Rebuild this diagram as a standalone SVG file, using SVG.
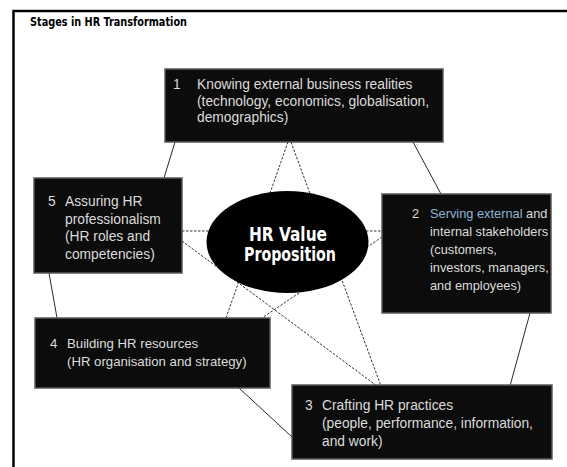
<svg xmlns="http://www.w3.org/2000/svg" width="567" height="467" viewBox="0 0 567 467">
<style>
.box{fill:#0c0c0c;stroke:#5a5a5a;stroke-width:1.5}
.t{font-family:"Liberation Sans",Arial,sans-serif;fill:#dcdcdc}
.solid{stroke:#2a2a2a;stroke-width:1;fill:none}
.dash{stroke:#333;stroke-width:1;stroke-dasharray:2.5 1.5;fill:none}
.title{font-family:"Liberation Sans Narrow","DejaVu Sans Condensed","Liberation Sans",sans-serif;font-weight:bold;font-size:11.5px;fill:#000}
.hv{font-family:"Liberation Sans Narrow","DejaVu Sans Condensed","Liberation Sans",sans-serif;font-weight:bold;font-size:19px;fill:#fff;text-anchor:middle}
</style>
<rect width="567" height="467" fill="#fff"/>
<path d="M13.5 467 V11 H567" fill="none" stroke="#000" stroke-width="2.5"/>
<text class="title" x="30" y="26" textLength="157" lengthAdjust="spacingAndGlyphs">Stages in HR Transformation</text>
<g id="connectors">
<line class="solid" x1="175" y1="142" x2="164" y2="178"/>
<line class="solid" x1="413" y1="142" x2="441" y2="194"/>
<line class="solid" x1="49" y1="273" x2="57" y2="318"/>
<line class="solid" x1="239" y1="388" x2="292" y2="437"/>
<line class="solid" x1="530" y1="313" x2="510" y2="386"/>
<line class="dash" x1="288" y1="142" x2="226" y2="318"/>
<line class="dash" x1="291" y1="142" x2="381" y2="386"/>
<line class="dash" x1="182" y1="241" x2="377" y2="386"/>
<line class="dash" x1="382" y1="237" x2="262" y2="318"/>
<line class="dash" x1="182" y1="231" x2="382" y2="231"/>
</g>
<g id="center">
<ellipse cx="287.5" cy="242" rx="81" ry="51" fill="#000"/>
<text class="hv" x="288" y="241" textLength="78" lengthAdjust="spacingAndGlyphs">HR Value</text>
<text class="hv" x="290" y="261" textLength="92" lengthAdjust="spacingAndGlyphs">Proposition</text>
</g>
<g id="node1">
<rect class="box" x="165" y="69" width="278" height="73"/>
<text class="t" font-size="13.8"><tspan x="173" y="89">1</tspan><tspan x="197" y="89">Knowing external business realities</tspan><tspan x="197" y="105.5">(technology, economics, globalisation,</tspan><tspan x="197" y="122">demographics)</tspan></text>
</g>
<g id="node2">
<rect class="box" x="382" y="194" width="169" height="119"/>
<text class="t" font-size="12.8"><tspan x="412" y="218">2</tspan><tspan x="430" y="218" fill="#8db4d4">Serving external</tspan><tspan> and</tspan><tspan x="430" y="236">internal stakeholders</tspan><tspan x="430" y="254">(customers,</tspan><tspan x="430" y="272">investors, managers,</tspan><tspan x="430" y="290">and employees)</tspan></text>
</g>
<g id="node3">
<rect class="box" x="292" y="385" width="260" height="74"/>
<text class="t" font-size="13.8"><tspan x="305" y="410">3</tspan><tspan x="322" y="410">Crafting HR practices</tspan><tspan x="322" y="428">(people, performance, information,</tspan><tspan x="322" y="446">and work)</tspan></text>
</g>
<g id="node4">
<rect class="box" x="35" y="318" width="235" height="70"/>
<text class="t" font-size="13.2"><tspan x="50" y="348">4</tspan><tspan x="67" y="348">Building HR resources</tspan><tspan x="67" y="366">(HR organisation and strategy)</tspan></text>
</g>
<g id="node5">
<rect class="box" x="34" y="178" width="148" height="95"/>
<text class="t" font-size="13.8"><tspan x="48" y="206">5</tspan><tspan x="65" y="206">Assuring HR</tspan><tspan x="65" y="223.5">professionalism</tspan><tspan x="65" y="241">(HR roles and</tspan><tspan x="65" y="258.5">competencies)</tspan></text>
</g>
</svg>
